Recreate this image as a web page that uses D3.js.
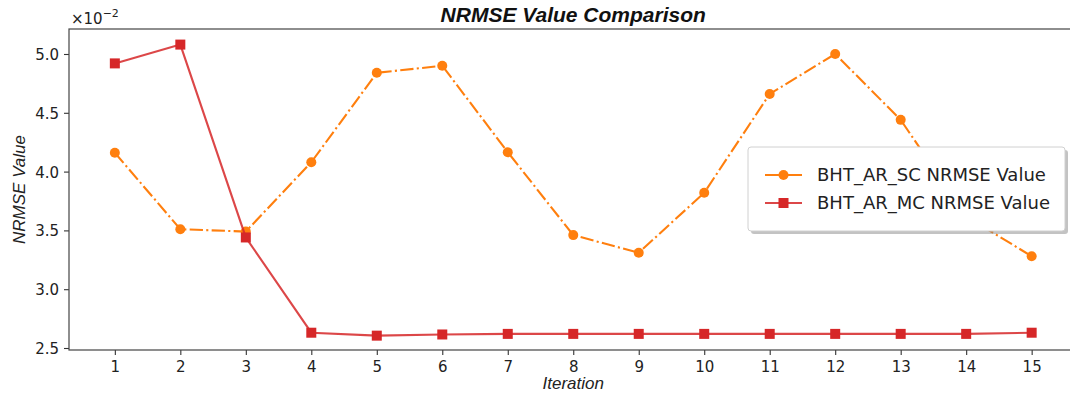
<!DOCTYPE html>
<html>
<head>
<meta charset="utf-8">
<script src="https://cdn.jsdelivr.net/npm/d3@7"></script>
<style>
  html, body { margin: 0; padding: 0; background: #fff; }
  svg { display: block; }
  .tick text { font-family: "DejaVu Sans", sans-serif; font-size: 15px; fill: #222; }
</style>
</head>
<body>
<svg id="chart" width="1070" height="397"></svg>
<script>
// Iterations on the x axis
const iterations = [1, 2, 3, 4, 5, 6, 7, 8, 9, 10, 11, 12, 13, 14, 15];
// NRMSE values, in units of 1e-2
const scValues = [4.16, 3.51, 3.49, 4.08, 4.84, 4.90, 4.165, 3.46, 3.31, 3.82, 4.66, 5.00, 4.44, 3.62, 3.28];
const mcValues = [4.92, 5.08, 3.44, 2.63, 2.605, 2.615, 2.62, 2.62, 2.62, 2.62, 2.62, 2.62, 2.62, 2.62, 2.63];
const yTicks = [2.5, 3.0, 3.5, 4.0, 4.5, 5.0];
const seriesNames = ["BHT_AR_SC NRMSE Value", "BHT_AR_MC NRMSE Value"];

const svg = d3.select("#chart");
const plot = { left: 69, right: 1077.5, top: 29, bottom: 350 };

const x = d3.scaleLinear().domain([0.3, 15.7]).range([plot.left, plot.right]);
const y = d3.scaleLinear().domain([2.483, 5.2125]).range([plot.bottom, plot.top]);

// Axes
const xAxis = d3.axisBottom(x).tickValues(iterations).tickFormat(d3.format("d")).tickSizeOuter(0).tickSize(5).tickPadding(6);
const yAxis = d3.axisLeft(y).tickValues(yTicks).tickFormat(d3.format(".1f")).tickSizeOuter(0).tickSize(5).tickPadding(5);

const gx = svg.append("g").attr("transform", `translate(0,${plot.bottom})`).call(xAxis);
const gy = svg.append("g").attr("transform", `translate(${plot.left},0)`).call(yAxis);
[gx, gy].forEach(g => {
  g.select(".domain").remove();
  g.selectAll(".tick line").attr("stroke", "#333").attr("stroke-width", 1.1);
});
gx.selectAll(".tick text").attr("dy", "0.71em");
gy.selectAll(".tick text").attr("dy", "0.36em");

// Frame (spines)
svg.append("rect")
  .attr("x", plot.left).attr("y", plot.top)
  .attr("width", plot.right - plot.left).attr("height", plot.bottom - plot.top)
  .attr("fill", "none").attr("stroke", "#444").attr("stroke-width", 1.2);

// Lines
const line = d3.line().x((d, i) => x(iterations[i])).y(d => y(d));

svg.append("path").datum(scValues)
  .attr("d", line).attr("fill", "none")
  .attr("stroke", "#ff7f0e").attr("stroke-width", 2.1)
  .attr("stroke-dasharray", "13.3,3.3,2.1,3.3");
svg.append("g").selectAll("circle").data(scValues).join("circle")
  .attr("cx", (d, i) => x(iterations[i])).attr("cy", d => y(d))
  .attr("r", 5).attr("fill", "#ff7f0e");

svg.append("path").datum(mcValues)
  .attr("d", line).attr("fill", "none")
  .attr("stroke", "#d62728").attr("stroke-opacity", 0.85).attr("stroke-width", 2.1);
svg.append("g").selectAll("rect").data(mcValues).join("rect")
  .attr("x", (d, i) => x(iterations[i]) - 5).attr("y", d => y(d) - 5)
  .attr("width", 10).attr("height", 10).attr("fill", "#d62728");

// Title and axis labels
svg.append("text")
  .attr("x", (plot.left + plot.right) / 2).attr("y", 22)
  .attr("text-anchor", "middle")
  .style("font-family", "'Liberation Sans', Arial, sans-serif")
  .style("font-size", "21px").style("font-weight", "bold").style("font-style", "italic")
  .attr("fill", "#111")
  .text("NRMSE Value Comparison");

svg.append("text")
  .attr("x", (plot.left + plot.right) / 2).attr("y", 389)
  .attr("text-anchor", "middle")
  .style("font-family", "'Liberation Sans', Arial, sans-serif")
  .style("font-size", "17px").style("font-style", "italic")
  .attr("fill", "#222")
  .text("Iteration");

svg.append("text")
  .attr("transform", `translate(25,${(plot.top + plot.bottom) / 2}) rotate(-90)`)
  .attr("text-anchor", "middle")
  .style("font-family", "'Liberation Sans', Arial, sans-serif")
  .style("font-size", "17px").style("font-style", "italic")
  .attr("fill", "#222")
  .text("NRMSE Value");

// Scale factor shown above the y axis
const off = svg.append("text")
  .attr("x", 71).attr("y", 24)
  .style("font-family", "'DejaVu Sans', sans-serif")
  .style("font-size", "15px").attr("fill", "#222");
off.append("tspan").text("×10");
off.append("tspan").attr("dy", -7).style("font-size", "11px").text("−2");

// Legend with drop shadow
const lg = svg.append("g").attr("transform", "translate(748,147)");
const lw = 317, lh = 84;
lg.append("rect").attr("x", 3).attr("y", 3).attr("width", lw).attr("height", lh)
  .attr("rx", 3).attr("fill", "#888").attr("fill-opacity", 0.5);
lg.append("rect").attr("width", lw).attr("height", lh)
  .attr("rx", 3).attr("fill", "#fff").attr("stroke", "#d0d0d0").attr("stroke-width", 1);

const entries = [
  { name: seriesNames[0], color: "#ff7f0e", shape: "circle" },
  { name: seriesNames[1], color: "#d62728", shape: "square" }
];
entries.forEach((e, i) => {
  const cy = 28 + i * 28;
  lg.append("line").attr("x1", 17).attr("x2", 54).attr("y1", cy).attr("y2", cy)
    .attr("stroke", e.color).attr("stroke-width", 2.1)
    .attr("stroke-opacity", e.shape === "square" ? 0.85 : 1);
  if (e.shape === "circle") {
    lg.append("circle").attr("cx", 35.5).attr("cy", cy).attr("r", 5).attr("fill", e.color);
  } else {
    lg.append("rect").attr("x", 30.5).attr("y", cy - 5).attr("width", 10).attr("height", 10).attr("fill", e.color);
  }
  lg.append("text").attr("x", 69).attr("y", cy).attr("dy", "0.36em")
    .style("font-family", "'DejaVu Sans', sans-serif").style("font-size", "18px")
    .attr("fill", "#222").text(e.name);
});
</script>
</body>
</html>
